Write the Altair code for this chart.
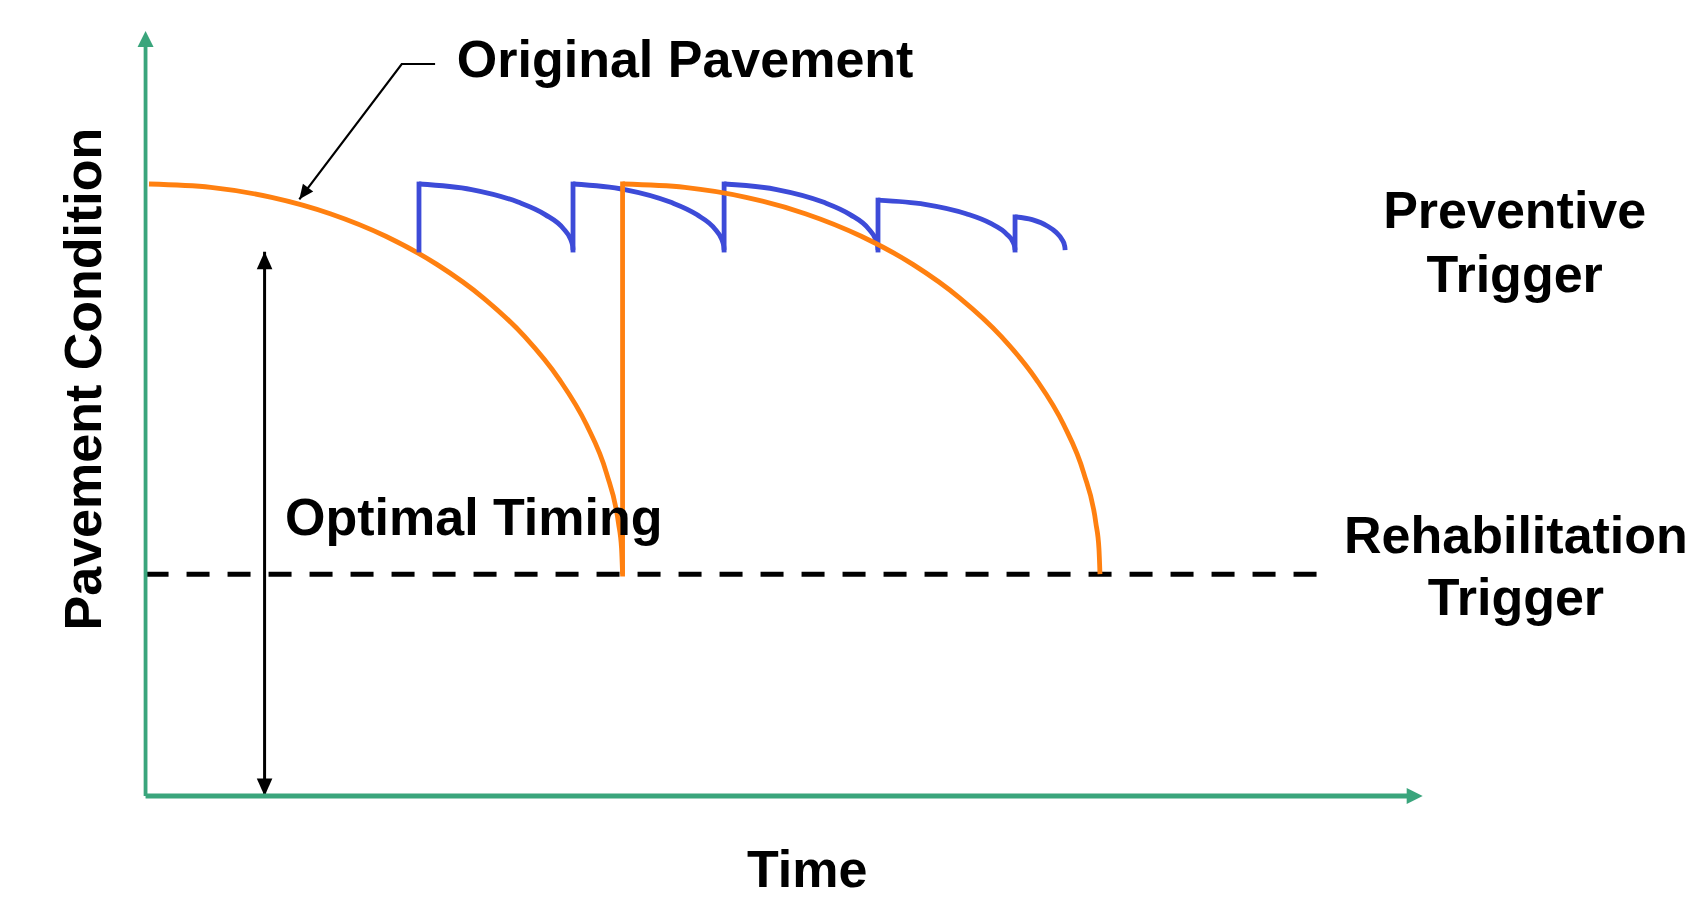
import altair as alt
import pandas as pd

# ---------------- data ----------------
# Original pavement deterioration curve (time, condition)
orig_t = [0.27, 5.11, 9.87, 14.46, 18.81, 22.84, 26.49, 29.69, 32.38, 34.53, 36.09, 37.03, 37.27, 37.35]
orig_c = [80, 79.56, 78.26, 76.12, 73.17, 69.46, 65.06, 60.05, 54.5, 48.52, 42.2, 35.66, 32.34, 29]

# Curve after rehabilitation
rehab_t = [37.35, 42.23, 47.02, 51.66, 56.04, 60.11, 63.78, 67.01, 69.72, 71.89, 73.46, 74.41, 74.65, 74.73]
rehab_c = [80, 79.56, 78.26, 76.12, 73.17, 69.46, 65.06, 60.05, 54.5, 48.52, 42.2, 35.66, 32.34, 29]

# Preventive-maintenance saw-tooth arcs
prev_seg = [1] * 8 + [2] * 8 + [3] * 8 + [4] * 8 + [5] * 8
prev_t = [21.41, 25.53, 29.16, 31.29, 32.75, 33.29, 33.44, 33.47,
          33.47, 37.52, 41.08, 43.16, 44.59, 45.12, 45.27, 45.3,
          45.3, 49.42, 53.05, 55.17, 56.63, 57.17, 57.32, 57.35,
          57.35, 61.02, 64.25, 66.14, 67.44, 67.92, 68.05, 68.08,
          68.08, 69.42, 70.6, 71.29, 71.76, 71.94, 71.99, 72.0]
prev_c = [80, 79.28, 77.64, 76.0, 74.1, 72.74, 71.92, 71.37,
          80, 79.28, 77.64, 76.0, 74.1, 72.74, 71.92, 71.37,
          80, 79.28, 77.64, 76.0, 74.1, 72.74, 71.92, 71.37,
          77.9, 77.35, 76.12, 74.88, 73.43, 72.41, 71.79, 71.37,
          75.7, 75.34, 74.52, 73.7, 72.74, 72.06, 71.65, 71.37]
# treatment jumps (time, low condition, restored condition)
treat_t = [21.41, 33.47, 45.3, 57.35, 68.08]
treat_lo = [71.37, 71.37, 71.37, 71.37, 71.37]
treat_hi = [80, 80, 80, 77.9, 75.7]

rehab_jump_t = [37.35]
rehab_jump_lo = [29]
rehab_jump_hi = [80]

trigger_level = [29]
trigger_end = [92.27]

timing_t = [9.32]
timing_lo = [0.0]
timing_hi = [71.15]

# ---------------- scales ----------------
XD = [-10.77, 121.32]
YD = [-14.12, 103.01]
xs = alt.Scale(domain=XD, nice=False, zero=False)
ys = alt.Scale(domain=YD, nice=False, zero=False)

def X(f="x"):
    return alt.X(f"{f}:Q", scale=xs, axis=None)

def Y(f="y"):
    return alt.Y(f"{f}:Q", scale=ys, axis=None)

ORANGE = "#ff8010"
BLUE = "#3d4bd8"
GREEN = "#3aa57c"
SW = 4.8

df_orig = pd.DataFrame({"x": orig_t, "y": orig_c})
df_rehab = pd.DataFrame({"x": rehab_t, "y": rehab_c})
df_prev = pd.DataFrame({"x": prev_t, "y": prev_c, "seg": prev_seg})
df_treat = pd.DataFrame({"x": treat_t, "y": treat_lo, "y2": treat_hi})
df_rj = pd.DataFrame({"x": rehab_jump_t, "y": rehab_jump_lo, "y2": rehab_jump_hi})
df_trig = pd.DataFrame({"x": [0], "x2": trigger_end, "y": trigger_level})
df_tim = pd.DataFrame({"x": timing_t, "y": timing_lo, "y2": timing_hi})

# dashed rehabilitation trigger
trig = alt.Chart(df_trig).mark_rule(color="black", strokeWidth=5, strokeDash=[23, 18]).encode(
    x=X(), x2="x2:Q", y=Y())

# axes (green arrows)
df_yaxis = pd.DataFrame({"x": [0], "y": [0], "y2": [98.2]})
df_xaxis = pd.DataFrame({"x": [0], "x2": [98.8], "y": [0]})
yaxis = alt.Chart(df_yaxis).mark_rule(color=GREEN, strokeWidth=3.8).encode(x=X(), y=Y(), y2="y2:Q")
xaxis = alt.Chart(df_xaxis).mark_rule(color=GREEN, strokeWidth=5).encode(x=X(), x2="x2:Q", y=Y())
ARROW = "M0,0L0.8,1.6L-0.8,1.6Z"
df_gheads = pd.DataFrame({"x": [0, 100], "y": [100, 0], "ang": [0, 90]})
gheads = alt.Chart(df_gheads).mark_point(shape=ARROW, filled=True, color=GREEN, opacity=1, size=400,
                                          strokeWidth=0).encode(
    x=X(), y=Y(), angle=alt.Angle("ang:Q", scale=None))

# optimal timing double arrow
tim = alt.Chart(df_tim).mark_rule(color="black", strokeWidth=3).encode(x=X(), y=Y(), y2="y2:Q")
df_bheads = pd.DataFrame({"x": [timing_t[0], timing_t[0]], "y": [timing_hi[0], timing_lo[0]], "ang": [0, 180]})
ARROW_B = "M0,0L0.8,1.8L-0.8,1.8Z"
bheads = alt.Chart(df_bheads).mark_point(shape=ARROW_B, filled=True, color="black", opacity=1, size=380,
                                          strokeWidth=0).encode(
    x=X(), y=Y(), angle=alt.Angle("ang:Q", scale=None))

# curves
orig = alt.Chart(df_orig).mark_line(color=ORANGE, strokeWidth=SW, interpolate="monotone").encode(x=X(), y=Y())
rehab = alt.Chart(df_rehab).mark_line(color=ORANGE, strokeWidth=SW, interpolate="monotone").encode(x=X(), y=Y())
rj = alt.Chart(df_rj).mark_rule(color=ORANGE, strokeWidth=SW, strokeCap="square").encode(x=X(), y=Y(), y2="y2:Q")
prev = alt.Chart(df_prev).mark_line(color=BLUE, strokeWidth=SW, interpolate="monotone").encode(
    x=X(), y=Y(), detail="seg:N")
treat = alt.Chart(df_treat).mark_rule(color=BLUE, strokeWidth=SW, strokeCap="square").encode(
    x=X(), y=Y(), y2="y2:Q")

# annotation leader for "Original Pavement"
df_lead = pd.DataFrame({"x": [22.67, 20.06, 12.04], "y": [95.69, 95.69, 78.0], "o": [0, 1, 2]})
lead = alt.Chart(df_lead).mark_line(color="black", strokeWidth=2.2).encode(x=X(), y=Y(), order="o:Q")
df_lhead = pd.DataFrame({"x": [12.04], "y": [78.0], "ang": [217]})
lhead = alt.Chart(df_lhead).mark_point(shape=ARROW_B, filled=True, color="black", opacity=1, size=260,
                                        strokeWidth=0).encode(
    x=X(), y=Y(), angle=alt.Angle("ang:Q", scale=None))

FONT = "Liberation Sans"
FS = 52
df_tl = pd.DataFrame({"x": [24.37, 10.92], "y": [94.03, 34.1], "t": ["Original Pavement", "Optimal Timing"]})
df_tc = pd.DataFrame({"x": [107.2, 107.2, 107.3, 107.3, 51.8],
                      "y": [74.2, 65.9, 31.7, 23.66, -11.86],
                      "t": ["Preventive", "Trigger", "Rehabilitation", "Trigger", "Time"]})
df_tr = pd.DataFrame({"x": [-3.5], "y": [54.5], "t": ["Pavement Condition"]})
tl = alt.Chart(df_tl).mark_text(font=FONT, fontSize=FS, fontWeight="bold", align="left",
                                baseline="alphabetic", color="black").encode(x=X(), y=Y(), text="t:N")
tc = alt.Chart(df_tc).mark_text(font=FONT, fontSize=FS, fontWeight="bold", align="center",
                                baseline="alphabetic", color="black").encode(x=X(), y=Y(), text="t:N")
tr = alt.Chart(df_tr).mark_text(font=FONT, fontSize=52, fontWeight="bold", align="center",
                                baseline="alphabetic", angle=270, color="black").encode(x=X(), y=Y(), text="t:N")

chart = alt.layer(
    trig, tim, bheads, orig, prev, treat, rehab, rj, yaxis, xaxis, gheads, lead, lhead, tl, tc, tr
).properties(
    width=1687, height=896,
    autosize=alt.AutoSizeParams(type="none"),
    padding=0,
    background="white",
).configure_view(stroke=None)

chart.save("out.html", embed_options={"renderer": "svg", "actions": False})
